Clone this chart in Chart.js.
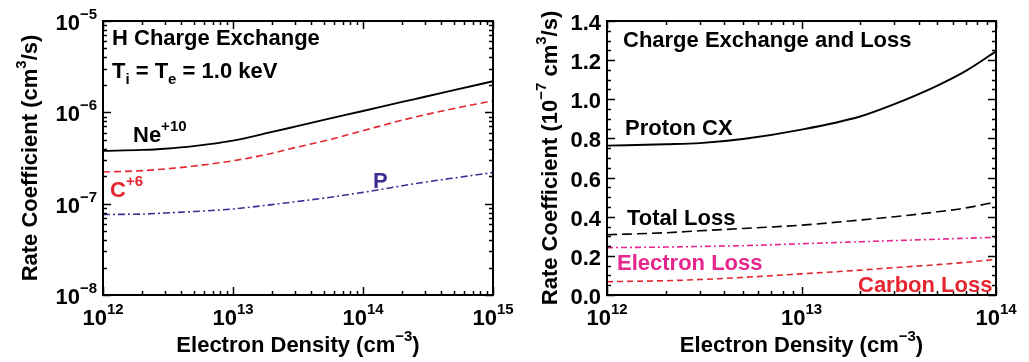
<!DOCTYPE html>
<html>
<head>
<meta charset="utf-8">
<title>Charge Exchange Rate Coefficients</title>
<script src="https://cdn.jsdelivr.net/npm/chart.js@4/dist/chart.umd.min.js"></script>
<style>
  body { margin: 0; background: #ffffff; }
  #wrap { position: relative; width: 1029px; height: 362px; overflow: hidden; }
  canvas { position: absolute; top: 0; }
  #leftChart { left: 0; }
  #rightChart { left: 500px; }
</style>
</head>
<body>
<div id="wrap">
  <canvas id="leftChart" width="530" height="362"></canvas>
  <canvas id="rightChart" width="529" height="362"></canvas>
</div>
<script>
// Left panel data: H charge exchange, Ti = Te = 1.0 keV
const densityLeft = [1e12, 2e12, 3e12, 5e12, 1e13, 2e13, 3e13, 5e13, 1e14, 2e14, 3e14, 5e14, 1e15]
const neRate = [3.78e-7, 3.88e-7, 4.0e-7, 4.27e-7, 4.9e-7, 6.1e-7, 6.97e-7, 8.26e-7, 1.035e-6, 1.3e-6, 1.48e-6, 1.75e-6, 2.19e-6]
const cRate = [2.22e-7, 2.3e-7, 2.4e-7, 2.58e-7, 2.95e-7, 3.56e-7, 4.11e-7, 4.85e-7, 6.3e-7, 8.2e-7, 9.4e-7, 1.1e-6, 1.34e-6]
const pRate = [7.6e-8, 7.7e-8, 7.9e-8, 8.2e-8, 8.75e-8, 9.77e-8, 1.05e-7, 1.15e-7, 1.33e-7, 1.57e-7, 1.72e-7, 1.91e-7, 2.19e-7]

// Right panel data: charge exchange and loss (units of 1e-7 cm^3/s)
const densityRight = [1e12, 2e12, 3e12, 5e12, 1e13, 2e13, 3e13, 5e13, 7e13, 1e14]
const protonCX = [0.763, 0.77, 0.776, 0.797, 0.845, 0.912, 0.975, 1.07, 1.145, 1.245]
const totalLoss = [0.308, 0.318, 0.328, 0.34, 0.357, 0.383, 0.4, 0.425, 0.445, 0.475]
const electronLoss = [0.242, 0.245, 0.248, 0.252, 0.262, 0.272, 0.278, 0.285, 0.29, 0.295]
const carbonLoss = [0.068, 0.073, 0.079, 0.09, 0.108, 0.127, 0.14, 0.155, 0.167, 0.182]

// Tick values
const leftXTicks = [1e12, 1e13, 1e14, 1e15]
const leftYTicks = [1e-8, 1e-7, 1e-6, 1e-5]
const rightXTicks = [1e12, 1e13, 1e14]
const rightYTicks = [0, 0.2, 0.4, 0.6, 0.8, 1.0, 1.2, 1.4]

const RED = "#e3262f"
const PURPLE = "#3f2d94"
const PINK = "#e6268c"
const FONT = '"Liberation Sans", Arial, sans-serif'

function toPoints(xs, ys) {
  return xs.map((x, i) => ({ x: x, y: ys[i] }))
}

function fontFor(kind) {
  return kind === "b" ? "bold 22px " + FONT : "bold 15px " + FONT
}

// draw text with superscripts / subscripts, parts = [[text, "b"|"sup"|"sub"], ...]
function richText(ctx, x, y, parts, align, color) {
  ctx.fillStyle = color || "#000000"
  ctx.textBaseline = "alphabetic"
  ctx.textAlign = "left"
  let w = 0
  parts.forEach((p) => {
    ctx.font = fontFor(p[1])
    w += ctx.measureText(p[0]).width
  })
  let cx = align === "center" ? x - w / 2 : align === "right" ? x - w : x
  parts.forEach((p) => {
    ctx.font = fontFor(p[1])
    const dy = p[1] === "sup" ? -11 : p[1] === "sub" ? 6 : 0
    ctx.fillText(p[0], cx, y + dy)
    cx += ctx.measureText(p[0]).width
  })
}

function logMinors(min, max) {
  const out = []
  for (let d = Math.floor(Math.log10(min)); d < Math.ceil(Math.log10(max)); d++) {
    for (let k = 2; k <= 9; k++) {
      const v = k * Math.pow(10, d)
      if (v > min && v < max) out.push(v)
    }
  }
  return out
}

function expLabel(v) {
  const e = Math.round(Math.log10(v))
  return [["10", "b"], [String(e).replace("-", "\u2212"), "sup"]]
}

// IDL style frame: inward ticks on all four sides, labels, titles
const idlAxes = {
  id: "idlAxes",
  afterDraw(chart, args, opts) {
    const ctx = chart.ctx
    const a = chart.chartArea
    const xs = chart.scales.x
    const ys = chart.scales.y
    ctx.save()
    ctx.strokeStyle = "#000000"
    ctx.lineCap = "butt"

    const tickX = (v, len) => {
      const px = Math.round(xs.getPixelForValue(v)) + 0.5
      ctx.beginPath()
      ctx.moveTo(px, a.bottom); ctx.lineTo(px, a.bottom - len)
      ctx.moveTo(px, a.top); ctx.lineTo(px, a.top + len)
      ctx.stroke()
    }
    const tickY = (v, len) => {
      const py = Math.round(ys.getPixelForValue(v)) + 0.5
      ctx.beginPath()
      ctx.moveTo(a.left, py); ctx.lineTo(a.left + len, py)
      ctx.moveTo(a.right, py); ctx.lineTo(a.right - len, py)
      ctx.stroke()
    }
    ctx.lineWidth = 1.5
    opts.xMajor.forEach((v) => tickX(v, 8))
    opts.xMinor.forEach((v) => tickX(v, 4))
    opts.yMajor.forEach((v) => tickY(v, 8))
    opts.yMinor.forEach((v) => tickY(v, 4))

    ctx.lineWidth = 2
    ctx.strokeRect(a.left, a.top, a.right - a.left, a.bottom - a.top)

    // tick labels
    opts.xMajor.forEach((v) => {
      richText(ctx, xs.getPixelForValue(v), a.bottom + 30, opts.xLabel(v), "center")
    })
    opts.yMajor.forEach((v) => {
      richText(ctx, a.left - 6, ys.getPixelForValue(v) + 9, opts.yLabel(v), "right")
    })

    // axis titles
    richText(ctx, (a.left + a.right) / 2, 352, [["Electron Density (cm", "b"], ["\u22123", "sup"], [")", "b"]], "center")
    ctx.save()
    ctx.translate(opts.yTitleX, (a.top + a.bottom) / 2)
    ctx.rotate(-Math.PI / 2)
    richText(ctx, 0, 0, opts.yTitle, "center")
    ctx.restore()

    // annotations
    opts.notes.forEach((n) => richText(ctx, n.x, n.y, n.parts, "left", n.color))
    ctx.restore()
  },
}

// Left chart
new Chart(document.getElementById("leftChart"), {
  type: "line",
  data: {
    datasets: [
      { label: "Ne+10", data: toPoints(densityLeft, neRate), borderColor: "#000000", borderWidth: 1.9 },
      { label: "C+6", data: toPoints(densityLeft, cRate), borderColor: RED, borderWidth: 1.6, borderDash: [7, 4] },
      { label: "P", data: toPoints(densityLeft, pRate), borderColor: PURPLE, borderWidth: 1.6, borderDash: [7, 3, 2, 3] },
    ],
  },
  options: {
    responsive: false,
    animation: false,
    layout: { padding: { left: 103, right: 37, top: 21, bottom: 67 } },
    elements: { point: { radius: 0 }, line: { cubicInterpolationMode: "monotone", fill: false } },
    plugins: {
      legend: { display: false },
      tooltip: { enabled: false },
      idlAxes: {
        xMajor: leftXTicks,
        xMinor: logMinors(1e12, 1e15),
        yMajor: leftYTicks,
        yMinor: logMinors(1e-8, 1e-5),
        xLabel: expLabel,
        yLabel: expLabel,
        yTitleX: 37,
        yTitle: [["Rate Coefficient (cm", "b"], ["3", "sup"], ["/s)", "b"]],
        notes: [
          { x: 112, y: 45, parts: [["H Charge Exchange", "b"]] },
          { x: 112, y: 78, parts: [["T", "b"], ["i", "sub"], [" = T", "b"], ["e", "sub"], [" = 1.0 keV", "b"]] },
          { x: 133, y: 142, parts: [["Ne", "b"], ["+10", "sup"]] },
          { x: 110, y: 197, parts: [["C", "b"], ["+6", "sup"]], color: RED },
          { x: 373, y: 188, parts: [["P", "b"]], color: PURPLE },
        ],
      },
    },
    scales: {
      x: { type: "logarithmic", min: 1e12, max: 1e15, display: false },
      y: { type: "logarithmic", min: 1e-8, max: 1e-5, display: false },
    },
  },
  plugins: [idlAxes],
})

// Right chart
new Chart(document.getElementById("rightChart"), {
  type: "line",
  data: {
    datasets: [
      { label: "Proton CX", data: toPoints(densityRight, protonCX), borderColor: "#000000", borderWidth: 1.9 },
      { label: "Total Loss", data: toPoints(densityRight, totalLoss), borderColor: "#000000", borderWidth: 1.6, borderDash: [10, 5] },
      { label: "Electron Loss", data: toPoints(densityRight, electronLoss), borderColor: PINK, borderWidth: 1.6, borderDash: [6, 3, 2, 3] },
      { label: "Carbon Loss", data: toPoints(densityRight, carbonLoss), borderColor: RED, borderWidth: 1.6, borderDash: [6, 4] },
    ],
  },
  options: {
    responsive: false,
    animation: false,
    layout: { padding: { left: 107, right: 33, top: 21, bottom: 67 } },
    elements: { point: { radius: 0 }, line: { cubicInterpolationMode: "monotone", fill: false } },
    plugins: {
      legend: { display: false },
      tooltip: { enabled: false },
      idlAxes: {
        xMajor: rightXTicks,
        xMinor: logMinors(1e12, 1e14),
        yMajor: rightYTicks,
        yMinor: rightYTicks.slice(0, -1).flatMap((v) => [v + 0.05, v + 0.1, v + 0.15]),
        xLabel: expLabel,
        yLabel: (v) => [[v.toFixed(1), "b"]],
        yTitleX: 57,
        yTitle: [["Rate Coefficient (10", "b"], ["\u22127", "sup"], [" cm", "b"], ["3", "sup"], ["/s)", "b"]],
        notes: [
          { x: 123, y: 47, parts: [["Charge Exchange and Loss", "b"]] },
          { x: 125, y: 135, parts: [["Proton CX", "b"]] },
          { x: 127, y: 225, parts: [["Total Loss", "b"]] },
          { x: 117, y: 270, parts: [["Electron Loss", "b"]], color: PINK },
          { x: 358, y: 292, parts: [["Carbon Loss", "b"]], color: RED },
        ],
      },
    },
    scales: {
      x: { type: "logarithmic", min: 1e12, max: 1e14, display: false },
      y: { type: "linear", min: 0, max: 1.4, display: false },
    },
  },
  plugins: [idlAxes],
})
</script>
</body>
</html>
